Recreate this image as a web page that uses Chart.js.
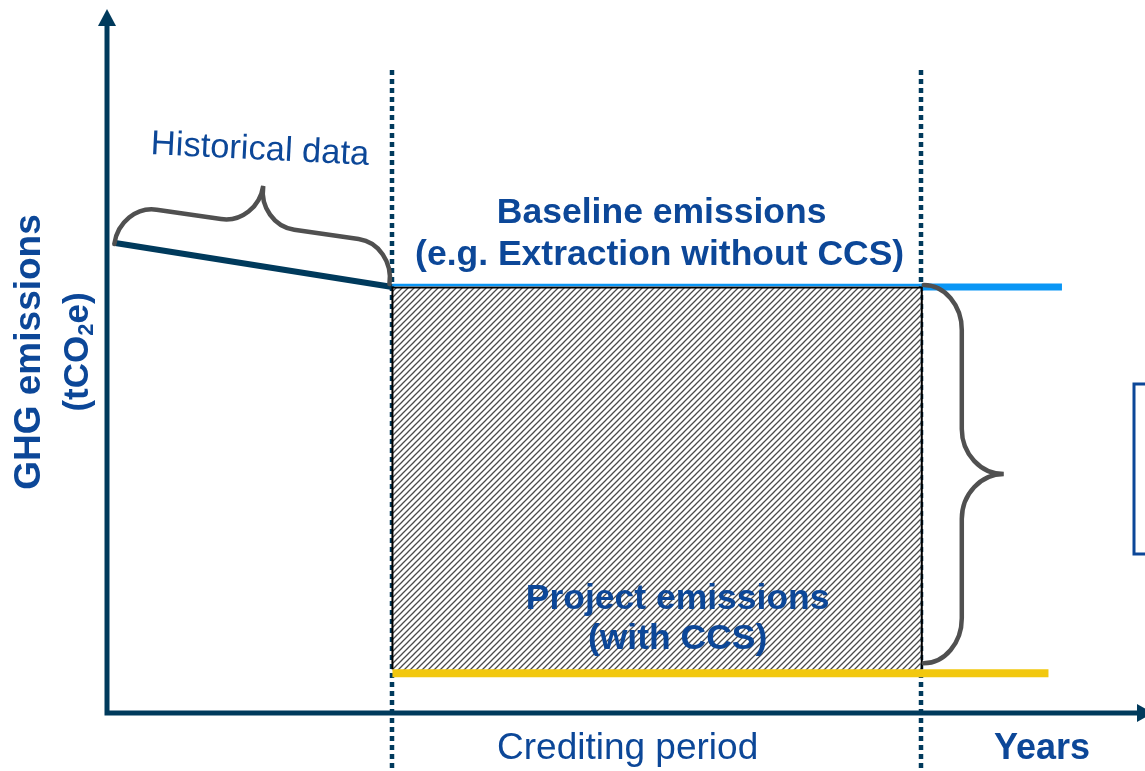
<!DOCTYPE html>
<html>
<head>
<meta charset="utf-8">
<title>Crediting period</title>
<script src="https://cdn.jsdelivr.net/npm/chart.js@4"></script>
<style>
    body { margin: 0; background: #ffffff; }
    #wrap { width: 1145px; height: 771px; }
</style>
</head>
<body>
<div id="wrap"><canvas id="chart" width="1145" height="771"></canvas></div>
<script>
// values (x = years, y = tCO2e, arbitrary units)
const historicalYears = [0.08, 2.75]
const historicalEmissions = [66.2, 60]
const creditingYears = [2.75, 7.84]
const baselineYears = [7.84, 9.2]
const baselineEmissions = [60, 60]
const projectYears = [2.75, 9.07]
const projectEmissions = [5.6, 5.6]

const navy = "#003a5c"
const textBlue = "#0c4798"
const braceGrey = "#505050"
const font = "'Liberation Sans', Arial, sans-serif"

function pts(xs, ys) {
    return xs.map((x, i) => ({ x: x, y: ys[i] }))
}

// hatch tile for the crediting rectangle
function hatchPattern() {
    const tile = document.createElement("canvas")
    tile.width = 6
    tile.height = 6
    const t = tile.getContext("2d")
    t.fillStyle = "#ffffff"
    t.fillRect(0, 0, 6, 6)
    t.strokeStyle = "#4a4a4a"
    t.lineWidth = 1.3
    t.beginPath()
    t.moveTo(-1, 7); t.lineTo(7, -1)
    t.moveTo(-1, 1); t.lineTo(1, -1)
    t.moveTo(5, 7); t.lineTo(7, 5)
    t.stroke()
    return document.getElementById("chart").getContext("2d").createPattern(tile, "repeat")
}

// curly brace from (x0,y0) to (x1,y1), bulging to the left-hand normal
function brace(ctx, x0, y0, x1, y1, h, tip, r) {
    const dx = x1 - x0, dy = y1 - y0
    const L = Math.hypot(dx, dy)
    const ux = dx / L, uy = dy / L
    const nx = uy, ny = -ux
    const P = (u, v) => [x0 + ux * u + nx * v, y0 + uy * u + ny * v]
    const m = L / 2
    const k = h + (tip - h) * 0.45
    ctx.beginPath()
    ctx.moveTo(...P(0, 0))
    ctx.bezierCurveTo(...P(0, h * 0.55), ...P(r * 0.45, h), ...P(r, h))
    ctx.lineTo(...P(m - r, h))
    ctx.bezierCurveTo(...P(m - r * 0.45, h), ...P(m, k), ...P(m, tip))
    ctx.bezierCurveTo(...P(m, k), ...P(m + r * 0.45, h), ...P(m + r, h))
    ctx.lineTo(...P(L - r, h))
    ctx.bezierCurveTo(...P(L - r * 0.45, h), ...P(L, h * 0.55), ...P(L, 0))
    ctx.stroke()
}

function text(ctx, str, x, y, size, bold, align) {
    ctx.font = (bold ? "bold " : "") + size + "px " + font
    ctx.textAlign = align || "center"
    ctx.textBaseline = "middle"
    ctx.fillText(str, x, y)
}

const diagram = {
    id: "diagram",
    beforeDatasetsDraw(chart) {
        const ctx = chart.ctx
        const xs = chart.scales.x
        // dotted lines marking the crediting period
        ctx.save()
        ctx.strokeStyle = navy
        ctx.lineWidth = 4.5
        ctx.setLineDash([5, 4])
        creditingYears.forEach(yr => {
            const px = Math.round(xs.getPixelForValue(yr))
            ctx.beginPath()
            ctx.moveTo(px, 70)
            ctx.lineTo(px, chart.height)
            ctx.stroke()
        })
        ctx.restore()
    },
    afterDatasetsDraw(chart) {
        const ctx = chart.ctx
        const xs = chart.scales.x, ys = chart.scales.y
        const area = chart.chartArea
        const cx0 = xs.getPixelForValue(creditingYears[0])
        const cx1 = xs.getPixelForValue(creditingYears[1])
        const top = ys.getPixelForValue(baselineEmissions[0])
        const bottom = ys.getPixelForValue(projectEmissions[0])
        ctx.save()

        // rectangle outline + thin baseline over the crediting period
        ctx.strokeStyle = "#000000"
        ctx.lineWidth = 2
        ctx.beginPath()
        ctx.moveTo(cx0, bottom - 4); ctx.lineTo(cx0, top + 0.5)
        ctx.lineTo(cx1 + 1, top + 0.5); ctx.lineTo(cx1 + 1, bottom - 4)
        ctx.stroke()
        ctx.strokeStyle = "#0a96f5"
        ctx.lineWidth = 2.5
        ctx.beginPath()
        ctx.moveTo(cx0, top - 2); ctx.lineTo(cx1, top - 2)
        ctx.stroke()

        // braces
        ctx.strokeStyle = braceGrey
        ctx.lineWidth = 4.5
        ctx.lineCap = "round"
        const hx0 = xs.getPixelForValue(historicalYears[0])
        const hy0 = ys.getPixelForValue(historicalEmissions[0])
        const hx1 = xs.getPixelForValue(historicalYears[1])
        const hy1 = ys.getPixelForValue(historicalEmissions[1])
        brace(ctx, hx0 - 1, hy0 + 1, hx1 - 3, hy1 - 3, 40, 79, 37)
        brace(ctx, cx1 + 3, top - 2, cx1 + 3, bottom - 10, 38, 80, 45)

        // axes with arrows
        ctx.strokeStyle = navy
        ctx.fillStyle = navy
        ctx.lineWidth = 5
        ctx.lineCap = "butt"
        ctx.beginPath()
        ctx.moveTo(area.left, area.bottom + 2.5)
        ctx.lineTo(area.left, 24)
        ctx.moveTo(area.left - 2.5, area.bottom)
        ctx.lineTo(chart.width - 6, area.bottom)
        ctx.stroke()
        ctx.beginPath()
        ctx.moveTo(area.left, 9); ctx.lineTo(area.left + 9, 26); ctx.lineTo(area.left - 9, 26)
        ctx.closePath(); ctx.fill()
        ctx.beginPath()
        ctx.moveTo(chart.width + 8, area.bottom); ctx.lineTo(chart.width - 8, area.bottom - 9)
        ctx.lineTo(chart.width - 8, area.bottom + 9)
        ctx.closePath(); ctx.fill()

        // labels
        ctx.fillStyle = textBlue
        const mid = (cx0 + cx1) / 2
        text(ctx, "Baseline emissions", mid + 5, top - 74, 35.5, true)
        text(ctx, "(e.g. Extraction without CCS)", mid + 3, top - 32, 35.5, true)
        text(ctx, "Project emissions", mid + 21, bottom - 74, 35.5, true)
        text(ctx, "(with CCS)", mid + 21, bottom - 34, 35.5, true)
        text(ctx, "Crediting period", mid - 29, area.bottom + 36, 37, false)
        text(ctx, "Years", 1042, area.bottom + 36, 36, true)

        ctx.save()
        ctx.translate(260, 150)
        ctx.rotate(0.05)
        text(ctx, "Historical data", 0, 0, 34.5, false)
        ctx.restore()

        // y axis title, rotated
        ctx.save()
        ctx.translate(30, 352)
        ctx.rotate(-Math.PI / 2)
        text(ctx, "GHG emissions", 0, 0, 37, true)
        ctx.restore()
        ctx.save()
        ctx.translate(78, 352)
        ctx.rotate(-Math.PI / 2)
        ctx.font = "bold 35px " + font
        const a = "(tCO", b = "2", c = "e)"
        const wa = ctx.measureText(a).width, wc = ctx.measureText(c).width
        ctx.font = "bold 22px " + font
        const wb = ctx.measureText(b).width
        let x = -(wa + wb + wc) / 2
        text(ctx, a, x, 0, 35, true, "left")
        x += wa
        text(ctx, b, x, 9, 22, true, "left")
        x += wb
        text(ctx, c, x, 0, 35, true, "left")
        ctx.restore()

        // partly visible box at the right edge
        ctx.strokeStyle = textBlue
        ctx.lineWidth = 3
        ctx.strokeRect(1134, 384, 60, 170)
        ctx.restore()
    }
}

const ctx = document.getElementById("chart").getContext("2d")
new Chart(ctx, {
    type: "line",
    data: {
        datasets: [
            {
                label: "Historical data",
                data: pts(historicalYears, historicalEmissions),
                borderColor: navy,
                borderWidth: 6,
                fill: false,
                order: 3
            },
            {
                label: "Baseline (crediting period)",
                data: pts(creditingYears, baselineEmissions),
                borderWidth: 0,
                borderColor: "rgba(0,0,0,0)",
                backgroundColor: hatchPattern(),
                fill: "+1",
                order: 5
            },
            {
                label: "Project (crediting period)",
                data: pts(creditingYears, projectEmissions),
                borderWidth: 0,
                borderColor: "rgba(0,0,0,0)",
                fill: false,
                order: 4
            },
            {
                label: "Baseline emissions",
                data: pts(baselineYears, baselineEmissions),
                borderColor: "#0a96f5",
                borderWidth: 7,
                fill: false,
                order: 1
            },
            {
                label: "Project emissions",
                data: pts(projectYears, projectEmissions),
                borderColor: "#f2c80f",
                borderWidth: 8,
                fill: false,
                order: 0
            }
        ]
    },
    options: {
        responsive: false,
        devicePixelRatio: 1,
        animation: false,
        layout: { padding: { left: 107, top: 3, right: 0, bottom: 58 } },
        elements: { point: { radius: 0 }, line: { tension: 0 } },
        plugins: { legend: { display: false }, tooltip: { enabled: false } },
        scales: {
            x: { type: "linear", min: 0, max: 10, display: false },
            y: { type: "linear", min: 0, max: 100, display: false }
        }
    },
    plugins: [diagram]
})
</script>
</body>
</html>
